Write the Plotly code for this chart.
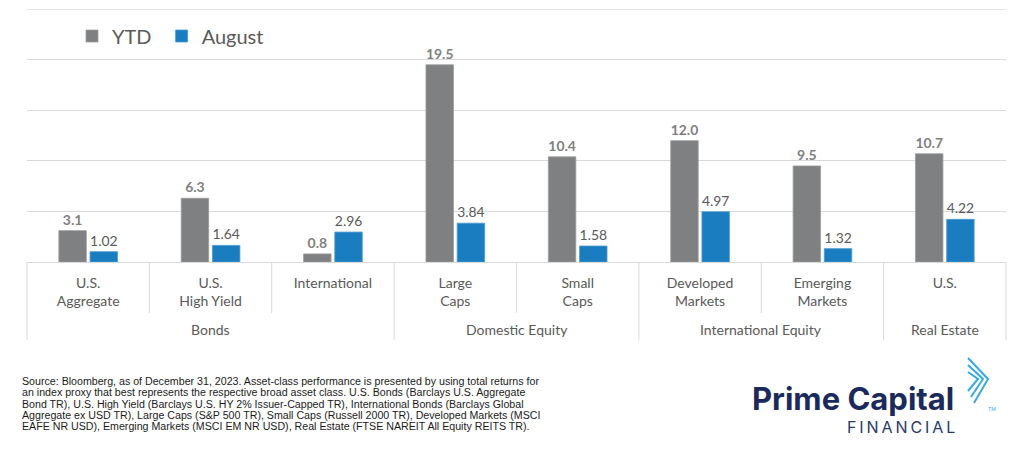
import plotly.graph_objects as go

categories = ["U.S.<br>Aggregate", "U.S.<br>High Yield", "International",
              "Large<br>Caps", "Small<br>Caps", "Developed<br>Markets",
              "Emerging<br>Markets", "U.S."]
groups = ["Bonds", "Bonds", "Bonds", "Domestic Equity", "Domestic Equity",
          "International Equity", "International Equity", "Real Estate"]
ytd = [3.1, 6.3, 0.8, 19.5, 10.4, 12.0, 9.5, 10.7]
august = [1.02, 1.64, 2.96, 3.84, 1.58, 4.97, 1.32, 4.22]

source_lines = [
    "Source: Bloomberg, as of December 31, 2023. Asset-class performance is presented by using total returns for",
    "an index proxy that best represents the respective broad asset class. U.S. Bonds (Barclays U.S. Aggregate",
    "Bond TR), U.S. High Yield (Barclays U.S. HY 2% Issuer-Capped TR), International Bonds (Barclays Global",
    "Aggregate ex USD TR), Large Caps (S&P 500 TR), Small Caps (Russell 2000 TR), Developed Markets (MSCI",
    "EAFE NR USD), Emerging Markets (MSCI EM NR USD), Real Estate (FTSE NAREIT All Equity REITS TR).",
]

GRAY = "#7e8081"
BLUE = "#1a7dbf"
TXT = "#595959"
FONT = "Lato"
Y_MAX = 25

# page body has an 8px margin; figure sized to fit the 1024x450 window
W, H = 1016, 434
ML, MR, MT, MB = 19, 18, 1, 180
PW, PH = W - ML - MR, H - MT - MB
OFF = 8


def px2paper(sx, sy):
    fx, fy = sx - OFF, sy - OFF
    return (fx - ML) / PW, (H - MB - fy) / PH


fig = go.Figure()
fig.add_trace(go.Bar(
    name="YTD\u00a0", x=categories, y=ytd,
    marker=dict(color=GRAY, line=dict(color="#9a9c9d", width=0.8)),
    texttemplate="%{y:.1f}", textposition="outside",
    textfont=dict(family=FONT, size=14, color="#808080", weight="bold"),
    cliponaxis=False,
))
fig.add_trace(go.Bar(
    name="August", x=categories, y=august,
    marker=dict(color=BLUE, line=dict(color="#4a9bd0", width=0.8)),
    texttemplate="%{y:.2f}", textposition="outside",
    textfont=dict(family=FONT, size=14, color=TXT),
    cliponaxis=False,
))

shapes = []
# top gridline (at the range end)
shapes.append(dict(type="line", xref="x domain", yref="y", x0=0, x1=1, y0=Y_MAX, y1=Y_MAX,
                   line=dict(color="#d9d9d9", width=1), layer="below"))
n = len(categories)
_, y_base = px2paper(0, 262)
for i in range(n + 1):
    left = groups[i - 1] if i > 0 else None
    right = groups[i] if i < n else None
    bottom_py = 340 if left != right else 313
    _, y1 = px2paper(0, bottom_py)
    shapes.append(dict(type="line", xref="x domain", yref="paper",
                       x0=i / n, x1=i / n, y0=y_base, y1=y1,
                       line=dict(color="#d9d9d9", width=1)))

# logo chevron
for k in range(3):
    pts = [(968, 358 + 7 * k), (988 - 5 * k, 379), (974 - 3 * k, 403 - 6 * k)]
    pp = [px2paper(x, y) for x, y in pts]
    path = "M %f,%f L %f,%f L %f,%f" % (pp[0] + pp[1] + pp[2])
    shapes.append(dict(type="path", xref="paper", yref="paper", path=path,
                       line=dict(color="#36aae2", width=2)))

annotations = []
seen = []
for g in groups:
    if g not in seen:
        seen.append(g)
_, y_grp = px2paper(0, 329)
for g in seen:
    idx = [i for i, gg in enumerate(groups) if gg == g]
    xc = (min(idx) + max(idx) + 1) / 2 / n
    annotations.append(dict(text=g, xref="x domain", yref="paper", x=xc, y=y_grp,
                            showarrow=False, xanchor="center", yanchor="middle",
                            font=dict(family=FONT, size=14, color=TXT)))

for j, line in enumerate(source_lines):
    sx, sy = px2paper(20, 381 + 11.3 * j)
    annotations.append(dict(text=line, xref="paper", yref="paper", x=sx, y=sy,
                            showarrow=False, xanchor="left", yanchor="middle", align="left",
                            font=dict(family="Liberation Sans", size=10.65, color="#1a1a1a")))

lx, ly = px2paper(750, 398)
annotations.append(dict(text="Prime Capital", xref="paper", yref="paper", x=lx, y=ly,
                        showarrow=False, xanchor="left", yanchor="middle",
                        font=dict(family="Inter", size=31, color="#1b2a5c", weight="bold")))
fx, fy = px2paper(957, 427)
annotations.append(dict(text="F\u2009I\u2009N\u2009A\u2009N\u2009C\u2009I\u2009A\u2009L", xref="paper", yref="paper",
                        x=fx, y=fy, showarrow=False, xanchor="right", yanchor="middle",
                        font=dict(family="Inter", size=16, color="#2b3a68")))
tx, ty = px2paper(986, 409)
annotations.append(dict(text="TM", xref="paper", yref="paper", x=tx, y=ty,
                        showarrow=False, xanchor="left", yanchor="middle",
                        font=dict(family="Inter", size=5, color="#36aae2")))

legx, legy = px2paper(72, 36)
fig.update_layout(
    width=W, height=H,
    margin=dict(l=ML, r=MR, t=MT, b=MB, pad=0),
    paper_bgcolor="white", plot_bgcolor="white",
    barmode="group", bargap=0.49, bargroupgap=0.12,
    showlegend=True,
    legend=dict(orientation="h", x=legx, y=legy, xanchor="left", yanchor="middle",
                font=dict(family=FONT, size=20, color=TXT), bgcolor="rgba(0,0,0,0)"),
    xaxis=dict(type="category", showgrid=False, showline=True, linecolor="#d9d9d9", linewidth=1,
               ticks="", tickfont=dict(family=FONT, size=14, color=TXT), ticklabelstandoff=8,
               fixedrange=True),
    yaxis=dict(range=[0, Y_MAX + 0.02], dtick=5, showgrid=True, gridcolor="#d9d9d9", gridwidth=1,
               showticklabels=False, zeroline=False, showline=False, ticks="", fixedrange=True),
    shapes=shapes, annotations=annotations,
)

fig.write_html("out.html")
